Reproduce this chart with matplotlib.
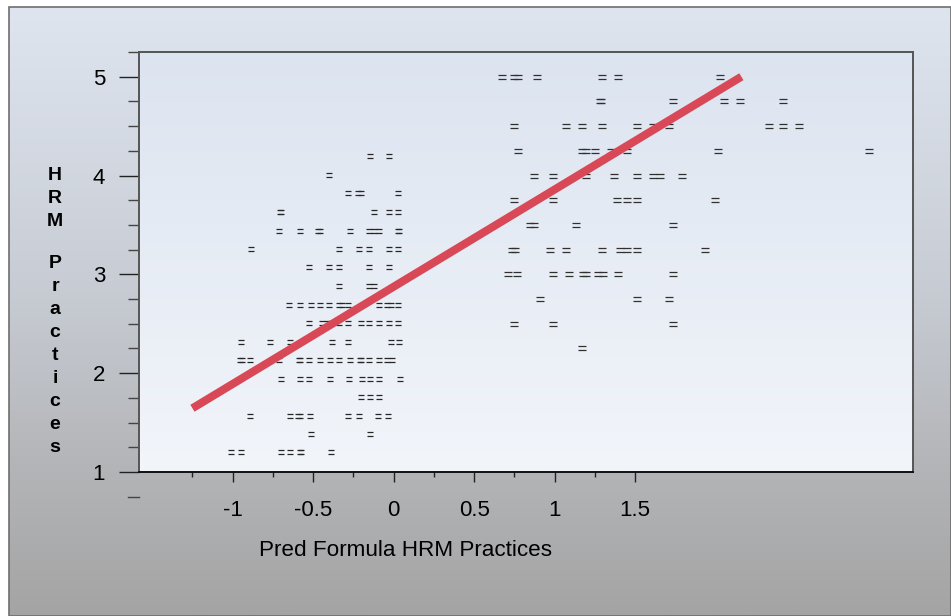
import numpy as np
import matplotlib
matplotlib.use("Agg")
import matplotlib.pyplot as plt
from matplotlib.path import Path
from matplotlib.patches import Rectangle

plt.rcParams['font.family'] = ['Liberation Sans', 'DejaVu Sans']

# --- data ---
# left cluster: response levels and the predicted values seen on each row
left_levels = [4.20, 4.01, 3.82, 3.63, 3.44, 3.26, 3.07, 2.88, 2.69,
               2.51, 2.32, 2.13, 1.94, 1.76, 1.57, 1.38, 1.20]
left_x = [
    [-0.147, -0.031],
    [-0.40],
    [-0.282, -0.22, -0.20, 0.028],
    [-0.708, -0.70, -0.12, -0.031, 0.028],
    [-0.712, -0.582, -0.468, -0.455, -0.271, -0.155, -0.12, -0.09, 0.027, 0.035],
    [-0.884, -0.34, -0.214, -0.155, -0.031, 0.028],
    [-0.524, -0.40, -0.34, -0.155, -0.031],
    [-0.34, -0.155, -0.12],
    [-0.653, -0.582, -0.514, -0.455, -0.40, -0.34, -0.323, -0.282,
     -0.089, -0.04, -0.015, 0.028],
    [-0.524, -0.446, -0.416, -0.39, -0.337, -0.282, -0.20, -0.152,
     -0.089, -0.032, 0.028],
    [-0.95, -0.767, -0.643, -0.385, -0.282, -0.019, 0.036],
    [-0.952, -0.945, -0.893, -0.71, -0.589, -0.582, -0.524, -0.455, -0.397,
     -0.339, -0.271, -0.209, -0.205, -0.153, -0.089, -0.04, -0.012],
    [-0.70, -0.584, -0.524, -0.397, -0.276, -0.199, -0.147, -0.089, 0.039],
    [-0.203, -0.147, -0.089],
    [-0.895, -0.642, -0.595, -0.582, -0.52, -0.282, -0.214, -0.098, -0.034],
    [-0.514, -0.147],
    [-1.01, -0.95, -0.70, -0.644, -0.582, -0.575, -0.387],
]

# right cluster
right_levels = [5.0, 4.75, 4.5, 4.25, 4.0, 3.75, 3.5, 3.25, 3.0, 2.75, 2.5, 2.25]
right_x = [
    [0.671, 0.749, 0.774, 0.892, 1.292, 1.391, 2.03],
    [1.281, 1.29, 1.733, 2.053, 2.153, 2.416],
    [0.749, 1.07, 1.172, 1.292, 1.509, 1.613, 1.712, 2.333, 2.416, 2.516],
    [0.77, 1.168, 1.194, 1.252, 1.35, 1.447, 2.014, 2.954],
    [0.871, 0.991, 1.194, 1.37, 1.509, 1.613, 1.654, 1.79],
    [0.749, 0.991, 1.385, 1.447, 1.509, 1.994],
    [0.847, 0.871, 1.132, 1.733],
    [0.737, 0.755, 0.971, 1.07, 1.292, 1.406, 1.447, 1.513, 1.934],
    [0.712, 0.768, 0.991, 1.091, 1.174, 1.194, 1.271, 1.302, 1.391, 1.733],
    [0.909, 1.513, 1.712],
    [0.749, 0.991, 1.733],
    [1.172],
]

# fitted line end points
fit_x = [-1.25, 2.16]
fit_y = [1.645, 5.0]

xticks_major = [-1, -0.5, 0, 0.5, 1, 1.5]
xtick_labels = ["-1", "-0.5", "0", "0.5", "1", "1.5"]
xticks_minor = [-1.25, -0.75, -0.25, 0.25, 0.75, 1.25]
yticks_major = [1, 2, 3, 4, 5]
yticks_minor = [1.25, 1.5, 1.75, 2.25, 2.5, 2.75, 3.25, 3.5, 3.75,
                4.25, 4.5, 4.75, 5.25]
ylabel_letters = ["H", "R", "M", "P", "r", "a", "c", "t", "i", "c", "e", "s"]
xlabel_text = "Pred Formula HRM Practices"


def flatten(levels, rows):
    xs, ys = [], []
    for lev, row in zip(levels, rows):
        xs += row
        ys += [lev] * len(row)
    return xs, ys


left_px, left_py = flatten(left_levels, left_x)
right_px, right_py = flatten(right_levels, right_x)

W, H = 951, 616
fig = plt.figure(figsize=(W / 100, H / 100), dpi=100)
fig.patch.set_facecolor("white")


def vgrad(stops, n=300):
    # stops: (pos 0=top..1=bottom, (r,g,b))
    pos = np.array([s[0] for s in stops])
    cols = np.array([s[1] for s in stops], dtype=float) / 255.0
    t = np.linspace(0, 1, n)
    img = np.stack([np.interp(t, pos, cols[:, k]) for k in range(3)], axis=-1)
    return img[:, None, :]


# outer background with gradient and border
bg = fig.add_axes([9 / W, 0, 1 - 9 / W, 1 - 7 / H], zorder=-3)
bg.imshow(vgrad([(0, (223, 229, 239)), (0.45, (200, 205, 213)),
                 (0.75, (180, 181, 184)), (1, (164, 164, 164))]),
          aspect="auto", extent=(0, 1, 0, 1))
bg.set_axis_off()
fig.add_artist(Rectangle((9 / W, 0), 1 - 9 / W, 1 - 7 / H, transform=fig.transFigure,
                         fill=False, edgecolor="#6e6e6e", linewidth=1.2, zorder=-1))

rect = [139 / W, (H - 472) / H, 774 / W, 420 / H]
pa = fig.add_axes(rect, zorder=-2)
pa.imshow(vgrad([(0, (220, 228, 240)), (1, (242, 245, 250))]),
          aspect="auto", extent=(0, 1, 0, 1))
pa.set_axis_off()

ax = fig.add_axes(rect, zorder=1)
ax.set_facecolor("none")

eq_marker = Path([(-1, 0.55), (1, 0.55), (-1, -0.55), (1, -0.55)],
                 [Path.MOVETO, Path.LINETO, Path.MOVETO, Path.LINETO])
ax.plot(left_px, left_py, linestyle="none", marker=eq_marker, markersize=4.6,
        markeredgewidth=0.9, markeredgecolor="#262626", markerfacecolor="none",
        zorder=2)
ax.plot(right_px, right_py, linestyle="none", marker=eq_marker, markersize=5.2,
        markeredgewidth=0.9, markeredgecolor="#303030", markerfacecolor="none",
        zorder=2)
ax.plot(fit_x, fit_y, color="#d94856", linewidth=5.8, solid_capstyle="butt", zorder=3)

ax.set_xlim(-1.582, 3.226)
ax.set_ylim(1, 5.25)

ax.set_xticks(xticks_major)
ax.set_xticklabels(xtick_labels)
ax.set_xticks(xticks_minor, minor=True)
ax.set_yticks(yticks_major)
ax.set_yticks(yticks_minor, minor=True)

ax.tick_params(axis="x", which="major", direction="out", length=7.2, width=1,
               color="#222222", labelsize=16, pad=13)
ax.tick_params(axis="x", which="minor", direction="out", length=3.6, width=1,
               color="#222222")
ax.tick_params(axis="y", which="major", direction="out", length=14.4, width=1,
               color="#222222", labelsize=16, pad=10)
ax.tick_params(axis="y", which="minor", direction="out", length=7.9, width=1,
               color="#444444")

for side in ["top", "right", "left"]:
    ax.spines[side].set_color("#555555")
    ax.spines[side].set_linewidth(1.4)
ax.spines["bottom"].set_color("#111111")
ax.spines["bottom"].set_linewidth(1.4)

# stray tick below the x axis on the y scale
ax.plot([-11 / 774, 0], [0.75, 0.75], transform=ax.get_yaxis_transform(),
        color="#444444", linewidth=1, clip_on=False)

# x label (offset to the left as in the original)
fig.text(406 / W, 1 - 551 / H, xlabel_text, ha="center", va="center", fontsize=16.2)

# stacked y label
baselines = [180, 203, 226, 268, 291, 314, 337, 360, 383, 406, 429, 452]
for letter, b in zip(ylabel_letters, baselines):
    fig.text(55 / W, 1 - b / H, letter, ha="center", va="baseline",
             fontsize=14, fontweight="bold")

fig.savefig("out.png", dpi=100)
